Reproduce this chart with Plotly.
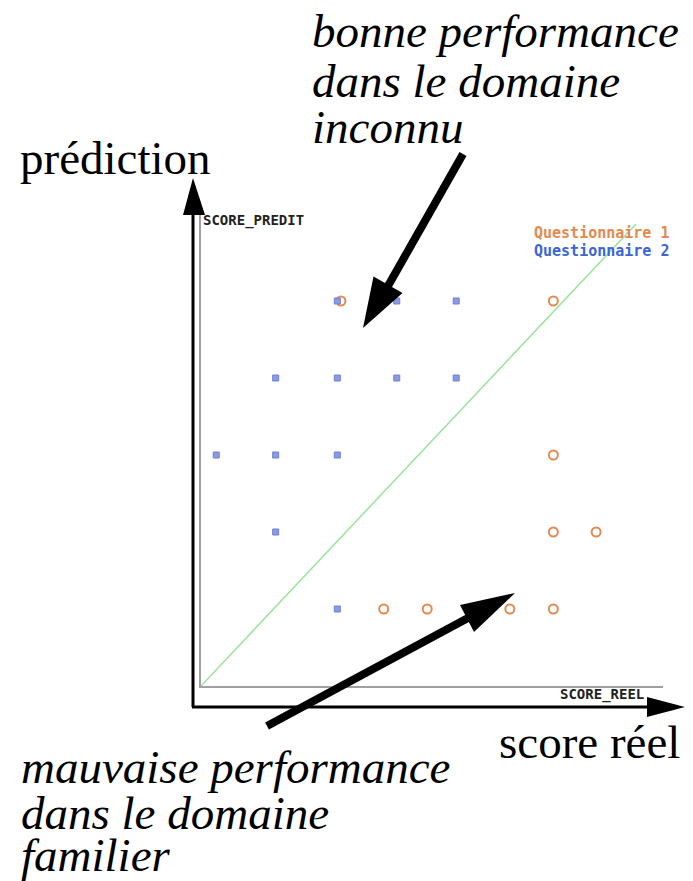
import plotly.graph_objects as go

# ---- data ----
q1_reel = [1.93, 4.86, 4.86, 4.86, 5.45, 2.52, 3.12, 4.26, 4.86]
q1_predit = [5, 5, 3, 2, 2, 1, 1, 1, 1]
q2_reel = [1.88, 2.70, 3.52, 1.03, 1.88, 2.70, 3.52, 0.21, 1.03, 1.88, 1.03, 1.88]
q2_predit = [5, 5, 5, 4, 4, 4, 4, 3, 3, 3, 2, 1]
diag = [0, 6.0]
series_names = ["Questionnaire 1", "Questionnaire 2"]

OFF = 8  # the page body has an 8px margin
W, H = 693 - OFF, 881 - OFF
L, R, T, B = 201, 663, 215, 686  # plot area in page pixels


def px(x):
    return (x - L) / (R - L)


def py(y):
    return (B - y) / (B - T)


ORANGE = "#E4894F"

fig = go.Figure()
fig.add_trace(go.Scatter(x=diag, y=diag, mode="lines",
                         line=dict(color="#9BE39B", width=1.5),
                         hoverinfo="skip", showlegend=False))
fig.add_trace(go.Scatter(x=q1_reel, y=q1_predit, mode="markers", name=series_names[0],
                         marker=dict(symbol="circle-open", size=9, color=ORANGE,
                                     line=dict(width=2, color=ORANGE)),
                         showlegend=False))
fig.add_trace(go.Scatter(x=q2_reel, y=q2_predit, mode="markers", name=series_names[1],
                         marker=dict(symbol="square", size=6, color="#8C9AE0",
                                     line=dict(width=1, color="#6F80D8")),
                         showlegend=False))

fig.update_xaxes(range=[0, (R - L) / 72.5], showgrid=False, zeroline=False,
                 showticklabels=False, ticks="", showline=True,
                 linecolor="#A0A0A0", linewidth=2)
fig.update_yaxes(range=[0, (B - T) / 77.0], showgrid=False, zeroline=False,
                 showticklabels=False, ticks="", showline=True,
                 linecolor="#A0A0A0", linewidth=2)

shapes = []
blk = "black"
# outer axes arrows
shapes.append(dict(type="line", xref="paper", yref="paper",
                   x0=px(193), y0=py(707), x1=px(193), y1=py(214),
                   line=dict(color=blk, width=3)))
shapes.append(dict(type="path", xref="paper", yref="paper",
                   path=f"M {px(193)},{py(178)} L {px(183)},{py(215)} L {px(205)},{py(215)} Z",
                   fillcolor=blk, line=dict(color=blk, width=0)))
shapes.append(dict(type="line", xref="paper", yref="paper",
                   x0=px(192), y0=py(707), x1=px(648), y1=py(707),
                   line=dict(color=blk, width=3)))
shapes.append(dict(type="path", xref="paper", yref="paper",
                   path=f"M {px(685)},{py(707)} L {px(647)},{py(697)} L {px(647)},{py(717)} Z",
                   fillcolor=blk, line=dict(color=blk, width=0)))
# annotation arrows
shapes.append(dict(type="line", xref="paper", yref="paper",
                   x0=px(463), y0=py(154), x1=px(388), y1=py(286),
                   line=dict(color=blk, width=8)))
shapes.append(dict(type="path", xref="paper", yref="paper",
                   path=f"M {px(363)},{py(328)} L {px(402.5)},{py(293)} L {px(373.5)},{py(276.5)} Z",
                   fillcolor=blk, line=dict(color=blk, width=0)))
shapes.append(dict(type="line", xref="paper", yref="paper",
                   x0=px(267), y0=py(726), x1=px(468), y1=py(618),
                   line=dict(color=blk, width=8)))
shapes.append(dict(type="path", xref="paper", yref="paper",
                   path=f"M {px(515)},{py(593)} L {px(474)},{py(632)} L {px(460)},{py(605)} Z",
                   fillcolor=blk, line=dict(color=blk, width=0)))

SERIF = "Liberation Serif, Times New Roman, serif"
MONO = "DejaVu Sans Mono, monospace"
ann = []


def txt(text, x, y, size, family, color="black", italic=False, bold=False):
    ann.append(dict(text=text, x=px(x), y=py(y), xref="paper", yref="paper",
                    xanchor="left", yanchor="middle", showarrow=False, borderpad=0,
                    font=dict(family=family, size=size, color=color,
                              style="italic" if italic else "normal",
                              weight="bold" if bold else "normal")))


FS = 47
txt("bonne performance", 311, 31, FS, SERIF, italic=True)
txt("dans le domaine", 311, 81, FS, SERIF, italic=True)
txt("inconnu", 311, 127, FS, SERIF, italic=True)
txt("prédiction", 19, 158, FS, SERIF)
txt("score réel", 498, 742, FS, SERIF)
txt("mauvaise performance", 20, 767, FS, SERIF, italic=True)
txt("dans le domaine", 20, 813, FS, SERIF, italic=True)
txt("familier", 20, 855, FS, SERIF, italic=True)

txt("SCORE_PREDIT", 202, 220, 14, MONO, color="#222222", bold=True)
txt("SCORE_REEL", 559, 694, 14, MONO, color="#222222", bold=True)
txt(series_names[0], 533, 233, 15, MONO, color=ORANGE, bold=True)
txt(series_names[1], 533, 251, 15, MONO, color="#3A66D8", bold=True)

fig.update_layout(width=W, height=H, autosize=False,
                  margin=dict(l=L - OFF, r=W - (R - OFF), t=T - OFF, b=H - (B - OFF), pad=0),
                  paper_bgcolor="white", plot_bgcolor="white",
                  shapes=shapes, annotations=ann, showlegend=False)

fig.write_html("out.html")
